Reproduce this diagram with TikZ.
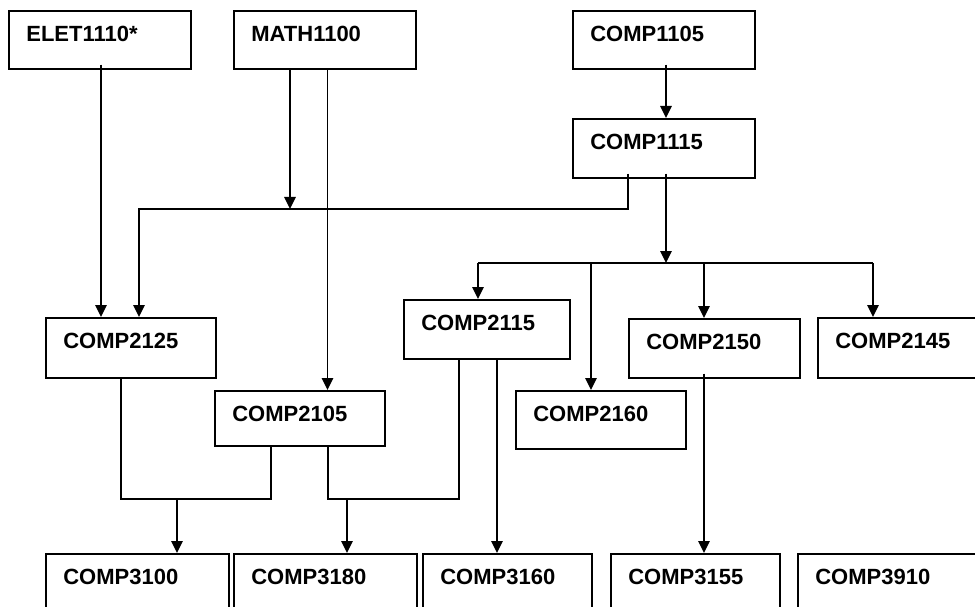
\documentclass[tikz,border=0pt]{standalone}
\usepackage{fontspec}
\setmainfont{Liberation Sans}
\usetikzlibrary{calc,arrows.meta}
\begin{document}
\begin{tikzpicture}[x=1pt,y=-1pt,
  line width=1.7pt,
  box/.style={draw, anchor=north west, inner xsep=17.5pt, inner ysep=0pt,
    text height=30.5pt, align=left,
    font=\fontsize{22}{26}\selectfont\bfseries},
  arr/.style={-{Triangle[width=11.5pt,length=12pt]}}]
\useasboundingbox (0,0) rectangle (975,607);
\clip (0,0) rectangle (975,607);
% first row
\node[box, text width=147pt, text depth=27.5pt] (elet) at (8,10) {ELET1110*};
\node[box, text width=147pt, text depth=27.5pt] (math) at (233,10) {MATH1100};
\node[box, text width=147pt, text depth=27.5pt] (c1105) at (572,10) {COMP1105};
\node[box, text width=147pt, text depth=28.5pt] (c1115) at (572,118) {COMP1115};
% second row
\node[box, text width=135pt, text depth=29.5pt] (c2125) at (45,317) {COMP2125};
\node[box, text width=135pt, text depth=24.5pt] (c2105) at (214,390) {COMP2105};
\node[box, text width=131pt, text depth=28.5pt] (c2115) at (403,299) {COMP2115};
\node[box, text width=135pt, text depth=27.5pt] (c2160) at (515,390) {COMP2160};
\node[box, text width=136pt, text depth=28.5pt] (c2150) at (628,318) {COMP2150};
\node[box, text width=145pt, text depth=29.5pt] (c2145) at (817,317) {COMP2145};
% third row
\node[box, text width=148pt, text depth=40pt] (c3100) at (45,553) {COMP3100};
\node[box, text width=148pt, text depth=40pt] (c3180) at (233,553) {COMP3180};
\node[box, text width=134pt, text depth=40pt] (c3160) at (422,553) {COMP3160};
\node[box, text width=134pt, text depth=40pt] (c3155) at (610,553) {COMP3155};
\node[box, text width=155pt, text depth=40pt] (c3910) at (797,553) {COMP3910};
% coordinates
\coordinate (e1) at ($(elet.south west)+(93,-5)$);
\coordinate (m1) at ($(math.south west)+(57,0)$);
\coordinate (m2) at ($(math.south west)+(94.5,0)$);
\coordinate (a1) at ($(c1105.south west)+(94,-5)$);
\coordinate (b1) at ($(c1115.south west)+(56,-5)$);
\coordinate (b2) at ($(c1115.south west)+(94,-5)$);
\coordinate (bus1) at ($(c2125.north west)+(94,-108)$);
\coordinate (busL) at ($(c2115.north west)+(75,-36)$);
\coordinate (busA) at ($(c2160.north west)+(76,0)$);
\coordinate (busB) at ($(c2150.north west)+(76,0)$);
\coordinate (busR) at ($(c2145.north west)+(56,0)$);
\coordinate (p1) at ($(c2125.south west)+(76,0)$);
\coordinate (q1) at ($(c2105.south west)+(57,0)$);
\coordinate (q2) at ($(c2105.south west)+(114,0)$);
\coordinate (r1) at ($(c2115.south west)+(56,0)$);
\coordinate (r2) at ($(c2115.south west)+(94,0)$);
\coordinate (s1) at ($(c2150.south west)+(76,-5)$);
\coordinate (j1) at ($(c3100.north west)+(132,-54)$);
\coordinate (j2) at ($(c3180.north west)+(114,-54)$);
% connectors
\draw[arr] (e1) -- (e1 |- c2125.north);
\draw[arr] (m1) -- (m1 |- bus1);
\draw[arr] (m2) -- (m2 |- c2105.north);
\draw[arr] (a1) -- (a1 |- c1115.north);
\draw[arr] (b1) |- (bus1) -- (bus1 |- c2125.north);
\draw[arr] (b2) -- (b2 |- busL);
\draw (busL) -- (busR |- busL);
\draw[arr] (busL) -- (busL |- c2115.north);
\draw[arr] (busA |- busL) -- (busA);
\draw[arr] (busB |- busL) -- (busB);
\draw[arr] (busR |- busL) -- (busR);
\draw (p1) |- (q1 |- j1) -- (q1);
\draw[arr] (j1) -- (j1 |- c3100.north);
\draw (q2) |- (r1 |- j2) -- (r1);
\draw[arr] (j2) -- (j2 |- c3180.north);
\draw[arr] (r2) -- (r2 |- c3160.north);
\draw[arr] (s1) -- (s1 |- c3155.north);
\end{tikzpicture}
\end{document}
